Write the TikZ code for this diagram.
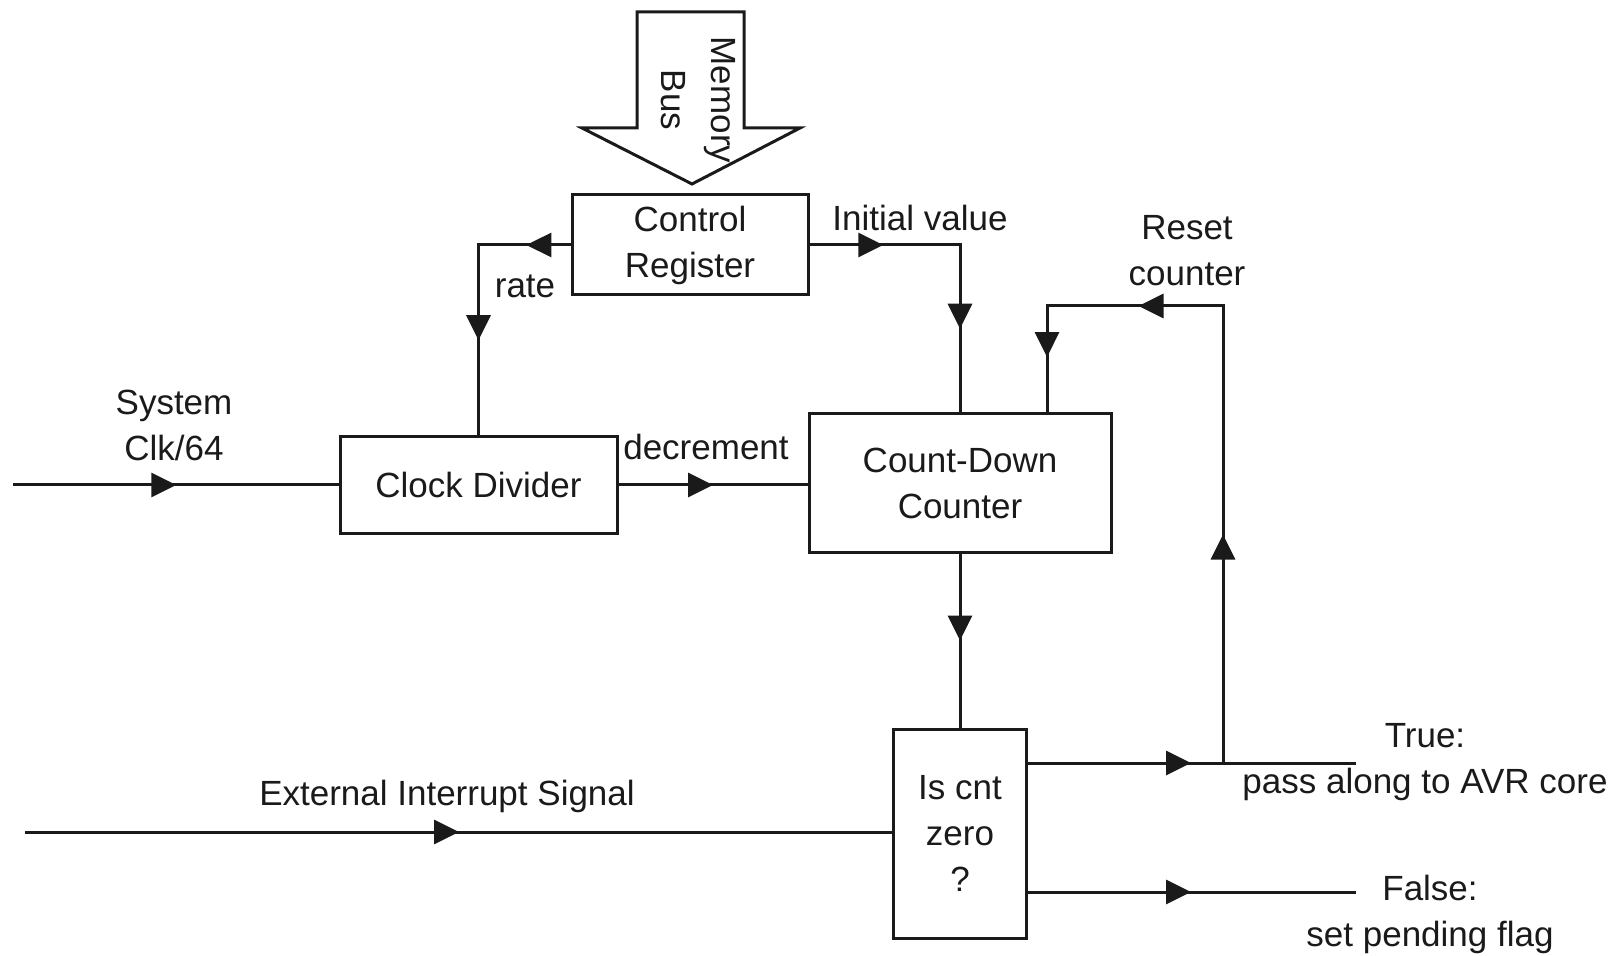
\documentclass[tikz,border=0pt]{standalone}
\usepackage{fontspec}
\setmainfont{Liberation Sans}
\usetikzlibrary{arrows.meta,decorations.markings}
\definecolor{pen}{HTML}{1A1A1A}

\begin{document}
\begin{tikzpicture}[x=0.5pt,y=-0.5pt,color=pen,font=\fontsize{17.5pt}{23pt}\selectfont,
  block/.style={draw,line width=1.5pt,align=center,inner sep=0pt},
  wire/.style={draw,line width=1.5pt,line cap=rect},
  flow/.style={wire,postaction={decorate,decoration={markings,
    mark=at position #1 with {\arrow{Triangle[length=12.5pt,width=12pt]}}}}},
  flow/.default=0.5,
  lbl/.style={align=center,inner sep=0pt}]
\useasboundingbox (0,0) rectangle (1621,956);
% blocks
\node[block,minimum width=118pt,minimum height=50pt] (ctrl) at (690,245) {Control\\Register};
\node[block,minimum width=138.5pt,minimum height=48pt] (clkdiv) at (478.5,485) {Clock Divider};
\node[block,minimum width=151pt,minimum height=69pt] (cdc) at (960,483) {Count-Down\\Counter};
\node[block,minimum width=66.5pt,minimum height=104.5pt] (iszero) at (960,833.5) {Is cnt\\zero\\?};
% memory bus
\draw[line width=1.5pt,line join=miter] (637,12) -- (744,12) -- (744,128) -- (800,128) -- (692,184) -- (582,128) -- (637,128) -- cycle;
\node[lbl,rotate=-90,font=\fontsize{17.5pt}{25pt}\selectfont] (bus) at (698,100) {Memory\\Bus};
% free ends and corners
\coordinate (clkin) at (14,485);
\coordinate (intin) at (26,832);
\coordinate (rateknee) at (clkdiv.north |- ctrl.west);
\coordinate (initknee) at (cdc.north |- ctrl.east);
\coordinate (trueend) at (1354,763);
\coordinate (falseend) at (1354,892);
\coordinate (rsttap) at (1223,763);
\coordinate (rsttop) at (1223,306);
\coordinate (rstknee) at (1047,306);
% connectors
\draw[flow] (clkin) -- (clkdiv.west);
\draw[flow] (clkdiv.east) -- (clkdiv.east -| cdc.west);
\draw[flow=0.48] (ctrl.west) -- (rateknee);
\draw[flow] (rateknee) -- (clkdiv.north);
\draw[flow=0.49] (ctrl.east) -- (initknee);
\draw[flow] (initknee) -- (cdc.north);
\draw[flow] (cdc.south) -- (iszero.north);
\draw[flow] (iszero.east |- trueend) -- (trueend);
\draw[flow] (iszero.east |- falseend) -- (falseend);
\draw[flow] (intin) -- (iszero.west |- intin);
\draw[flow] (rsttap) -- (rsttop);
\draw[flow=0.48] (rsttop) -- (rstknee);
\draw[flow=0.48] (rstknee) -- (rstknee |- cdc.north);
% labels
\node[lbl] (sysclk) at (174,425) {System\\Clk/64};
\node[lbl] (declbl) at (706,447) {decrement};
\node[lbl] (ratelbl) at (525,286) {rate};
\node[lbl] (initlbl) at (920,218) {Initial value};
\node[lbl] (rstlbl) at (1187,251) {Reset\\counter};
\node[lbl] (extlbl) at (447,796) {External Interrupt Signal};
\node[lbl] (truelbl) at (1425,762) {True:\\pass along to AVR core};
\node[lbl] (falselbl) at (1430,914) {False:\\set pending flag};
\end{tikzpicture}
\end{document}
